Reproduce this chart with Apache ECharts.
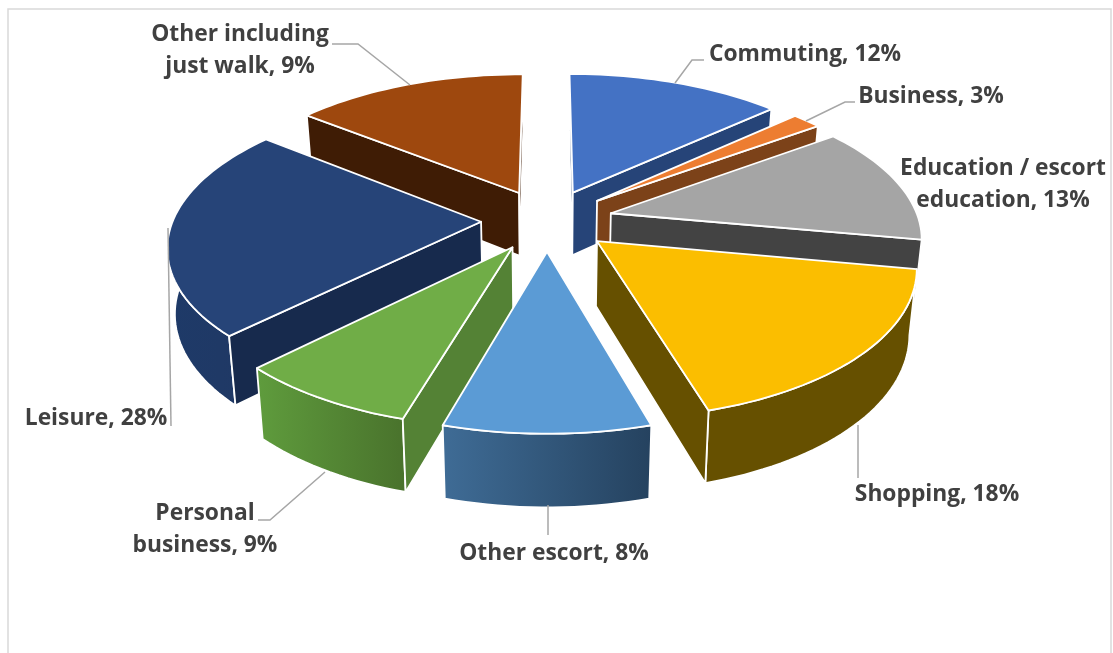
<!DOCTYPE html>
<html>
<head>
<meta charset="utf-8">
<style>
  html, body { margin: 0; padding: 0; background: #fff; }
  #chart { width: 1113px; height: 653px; }
</style>
<script src="https://cdn.jsdelivr.net/npm/echarts@6/dist/echarts.min.js"></script>
</head>
<body>
<div id="chart"></div>
<script>
const categories = [
    "Commuting", "Business", "Education / escort\neducation", "Shopping",
    "Other escort", "Personal\nbusiness", "Leisure", "Other including\njust walk"
];
// what the labels say
const labelShares = [12, 3, 13, 18, 8, 9, 28, 9];
// how wide the slices are actually drawn in the picture, it does not agree with the labels
const sliceShares = [13.2, 1.8, 12.9, 17.6, 9, 8, 23.2, 14.3];

const topColors = ["#4472C4", "#ED7D31", "#A5A5A5", "#FBBE00", "#5B9BD5", "#70AD47", "#264478", "#9E480E"];
const wallColors = ["#264478", "#7C4219", "#434343", "#665000", "#2F5377", "#548235", "#172A4D", "#3F1C05"];
const rimLeft = ["#264478", "#7C4219", "#434343", "#665000", "#3F6C96", "#5F9C3D", "#1E3A68", "#3F1C05"];
const rimRight = ["#264478", "#7C4219", "#434343", "#665000", "#25425F", "#49722C", "#203864", "#3F1C05"];

const labelBoxes = [
    [805, 55], [931, 97], [1003, 185], [937, 495],
    [554, 554], [205, 530], [96, 419], [240, 51]
];
const leaders = [
    [[675, 83], [692, 60], [704, 60]],
    [[806, 121], [845, 102], [855, 102]],
    null,
    [[858, 425], [858, 478]],
    [[548, 505], [548, 535]],
    [[325, 472], [270, 520], [258, 520]],
    [[168, 228], [171, 426]],
    [[410, 85], [358, 44], [332, 44]]
];

const CX = 547, CY = 220, RX = 308, RY = 144, PERSP = 0.15, DEPTH = 64, EXPLODE = 0.214;

function project(u, v, low) {
    const s = 1 / (1 + PERSP * v);
    const squeeze = low ? 0.98 : 1;
    return [
        CX + RX * u * s * squeeze,
        CY - RY * v * s + (low ? DEPTH * Math.pow(s, 0.7) : 0)
    ];
}

const total = sliceShares.reduce((a, b) => a + b, 0);
const slices = [];
let running = 0;
sliceShares.forEach((share, i) => {
    const start = running / total * Math.PI * 2;
    running += share;
    const end = running / total * Math.PI * 2;
    const mid = (start + end) / 2;
    slices.push({ i, start, end, du: EXPLODE * Math.sin(mid), dv: EXPLODE * Math.cos(mid), depth: Math.cos(mid) });
});
const paintOrder = slices.slice().sort((a, b) => b.depth - a.depth);

function arcPoints(s, low) {
    const pts = [];
    const steps = Math.max(4, Math.ceil((s.end - s.start) / 0.03));
    for (let k = 0; k <= steps; k++) {
        const a = s.start + (s.end - s.start) * k / steps;
        pts.push(project(s.du + Math.sin(a), s.dv + Math.cos(a), low));
    }
    return pts;
}

// a straight wall shows only if the top face lies above its upper edge
function wallShows(a, b, inside) {
    const cross = (b[0] - a[0]) * (inside[1] - a[1]) - (b[1] - a[1]) * (inside[0] - a[0]);
    return cross * (b[0] - a[0]) < 0;
}

function renderSlice(params, api) {
    const s = slices[api.value(0)];
    const order = params.dataIndex * 10;
    const apexTop = project(s.du, s.dv, false);
    const apexLow = project(s.du, s.dv, true);
    const upper = arcPoints(s, false);
    const lower = arcPoints(s, true);
    const last = upper.length - 1;
    const inside = upper[Math.floor(last / 2)];
    const edge = { stroke: "#fff", lineWidth: 1.8, lineJoin: "round" };
    const face = (points, fill, z) => ({
        type: "polygon", z2: order + z, shape: { points }, style: Object.assign({ fill }, edge)
    });
    const children = [
        face(upper.concat(lower.slice().reverse()), new echarts.graphic.LinearGradient(0, 0, 1, 0, [
            { offset: 0, color: rimLeft[s.i] },
            { offset: 1, color: rimRight[s.i] }
        ]), 1)
    ];
    if (wallShows(apexTop, upper[0], inside)) {
        children.push(face([apexTop, upper[0], lower[0], apexLow], wallColors[s.i], 2));
    }
    if (wallShows(apexTop, upper[last], inside)) {
        children.push(face([apexTop, upper[last], lower[last], apexLow], wallColors[s.i], 3));
    }
    children.push(face([apexTop].concat(upper), topColors[s.i], 4));
    return { type: "group", children };
}

function renderLabel(params, api) {
    const i = api.value(0);
    const children = [{
        type: "text", z2: 200, x: labelBoxes[i][0], y: labelBoxes[i][1],
        style: {
            text: categories[i] + ", " + labelShares[i] + "%",
            fill: "#404040", font: "700 22.8px 'Open Sans'", align: "center", verticalAlign: "middle",
            lineHeight: 32
        }
    }];
    if (leaders[i]) {
        children.push({
            type: "polyline", z2: 190, shape: { points: leaders[i] },
            style: { fill: null, stroke: "#A6A6A6", lineWidth: 1.5 }
        });
    }
    return { type: "group", children };
}

const chart = echarts.init(document.getElementById("chart"), null, { renderer: "canvas" });
chart.setOption({
    animation: false,
    backgroundColor: "#fff",
    graphic: [{
        type: "rect", silent: true,
        shape: { x: 8, y: 9, width: 1103, height: 660 },
        style: { fill: "none", stroke: "#D9D9D9", lineWidth: 1.5 }
    }],
    series: [
        {
            type: "custom", coordinateSystem: "none", silent: true, z: 2,
            renderItem: renderSlice,
            data: paintOrder.map(s => [s.i, sliceShares[s.i]])
        },
        {
            type: "custom", coordinateSystem: "none", silent: true, z: 3,
            renderItem: renderLabel,
            data: labelShares.map((v, i) => [i, v])
        }
    ]
});
</script>
</body>
</html>
